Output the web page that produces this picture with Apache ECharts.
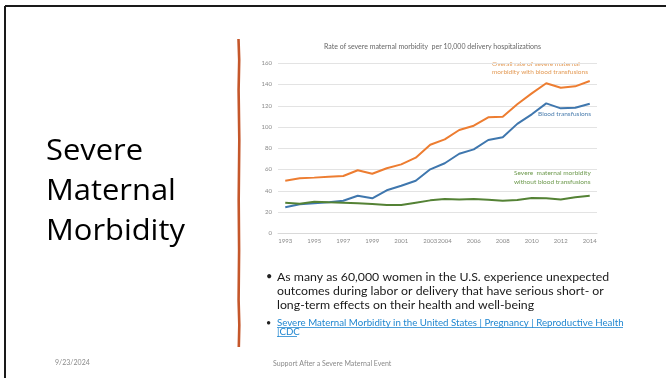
<!DOCTYPE html>
<html><head><meta charset="utf-8">
<script src="https://cdn.jsdelivr.net/npm/echarts@6/dist/echarts.min.js"></script>
<style>html,body{margin:0;padding:0;background:#fff;}#c{width:667px;height:378px;}</style>
</head><body><div id="c"></div>
<script>
var years = ['1993','1994','1995','1996','1997','1998','1999','2000','2001','2002','2003','2004','2005','2006','2007','2008','2009','2010','2011','2012','2013','2014'];
var tickLabels = ['1993','','1995','','1997','','1999','','2001','','2003','2004','','2006','','2008','','2010','','2012','','2014'];
var overallRate = [49.5,51.8,52.4,53.3,53.9,59.3,56.1,61.2,64.9,71.2,83.4,88.4,97.2,101.3,109.2,109.8,121.4,131.7,141.2,137.0,138.3,143.3];
var bloodTransfusions = [24.5,27.3,28.2,29.2,30.7,35.4,32.9,40.5,44.8,49.5,60.2,65.9,74.9,79.0,87.8,90.3,103.0,112.0,122.3,117.6,118.2,122.0];
var withoutTransfusions = [28.8,27.9,29.7,29.2,28.8,28.2,27.6,26.6,26.6,28.8,31.0,32.3,31.9,32.3,31.6,30.7,31.3,33.2,32.9,31.9,33.9,35.4];
var yTicks = {min:0, max:160, interval:20};

var chart = echarts.init(document.getElementById('c'), null, {renderer:'canvas'});
var axisFont = 'Lato, "Open Sans", sans-serif';
var slideFont = 'Lato, "Open Sans", sans-serif';
chart.setOption({
  animation:false,
  backgroundColor:'#fff',
  grid:{left:278, right:70, top:63.3, bottom:144.7},
  xAxis:{type:'category', data:years, boundaryGap:true,
    axisLine:{show:true, lineStyle:{color:'#d9d9d9', width:1}},
    axisTick:{show:false},
    axisLabel:{interval:0, fontSize:6, color:'#8a8a8a', fontFamily:axisFont, margin:5,
      formatter:function(v,i){return tickLabels[i];}}},
  yAxis:{type:'value', min:yTicks.min, max:yTicks.max, interval:yTicks.interval,
    axisLine:{show:false}, axisTick:{show:false},
    splitLine:{lineStyle:{color:'#e3e3e3', width:1}},
    axisLabel:{fontSize:6, color:'#8a8a8a', fontFamily:axisFont, margin:6}},
  series:[
    {type:'line', data:overallRate, showSymbol:false, lineStyle:{color:'#ED7D31', width:2}, itemStyle:{color:'#ED7D31'}},
    {type:'line', data:bloodTransfusions, showSymbol:false, lineStyle:{color:'#3F77AE', width:2}, itemStyle:{color:'#3F77AE'}},
    {type:'line', data:withoutTransfusions, showSymbol:false, lineStyle:{color:'#548235', width:2}, itemStyle:{color:'#548235'}}
  ],
  graphic:[
    {type:'line', shape:{x1:5, y1:6, x2:666, y2:6}, style:{stroke:'#1a1a1a', lineWidth:2}},
    {type:'line', shape:{x1:5, y1:6, x2:5, y2:378}, style:{stroke:'#1a1a1a', lineWidth:2}},
    {type:'polyline', shape:{points:[[238.5,39],[239.2,60],[238.6,90],[239.3,140],[238.7,200],[239.1,250],[238.6,300],[239.3,325],[238.8,347]]}, style:{stroke:'#C5572B', lineWidth:2.6, fill:null}},
    {type:'text', x:46, y:131, scaleX:1.03, style:{text:'Severe\nMaternal\nMorbidity', font:'30px "Open Sans", Lato, sans-serif', fill:'#000', lineHeight:40}},
    {type:'text', x:432.5, y:47, style:{text:'Rate of severe maternal morbidity  per 10,000 delivery hospitalizations', font:'7px '+axisFont, fill:'#666', align:'center', verticalAlign:'middle'}},
    {type:'text', x:492, y:67.7, style:{text:'Overall rate of severe maternal\nmorbidity with blood transfusions', font:'6.5px '+axisFont, fill:'#E39A55', verticalAlign:'middle', lineHeight:8}},
    {type:'text', x:538, y:114, style:{text:'Blood transfusions', font:'6.5px '+axisFont, fill:'#4A7DAE', verticalAlign:'middle'}},
    {type:'text', x:514, y:177.3, style:{text:'Severe  maternal morbidity\nwithout blood transfusions', font:'6.5px '+axisFont, fill:'#6E9A4E', verticalAlign:'middle', lineHeight:8.4}},
    {type:'text', x:266, y:276, style:{text:'•', font:'11px '+slideFont, fill:'#222', verticalAlign:'middle'}},
    {type:'text', x:277, y:270, style:{text:'As many as 60,000 women in the U.S. experience unexpected\noutcomes during labor or delivery that have serious short- or\nlong-term effects on their health and well-being', font:'12.3px '+slideFont, fill:'#1a1a1a', lineHeight:14}},
    {type:'text', x:266, y:322.7, style:{text:'•', font:'9px '+slideFont, fill:'#222', verticalAlign:'middle'}},
    {type:'text', x:277, y:318, style:{text:'Severe Maternal Morbidity in the United States | Pregnancy | Reproductive Health\n|CDC', font:'9.7px '+slideFont, fill:'#1F86D0', lineHeight:9}},
    {type:'line', shape:{x1:277, y1:327.5, x2:623, y2:327.5}, style:{stroke:'#1F86D0', lineWidth:0.8}},
    {type:'line', shape:{x1:277, y1:336.5, x2:297, y2:336.5}, style:{stroke:'#1F86D0', lineWidth:0.8}},
    {type:'text', x:55, y:363, style:{text:'9/23/2024', font:'7px '+slideFont, fill:'#8a8a8a', verticalAlign:'middle'}},
    {type:'text', x:273, y:364, style:{text:'Support After a Severe Maternal Event', font:'7px '+slideFont, fill:'#8a8a8a', verticalAlign:'middle'}}
  ]
});
</script></body></html>
